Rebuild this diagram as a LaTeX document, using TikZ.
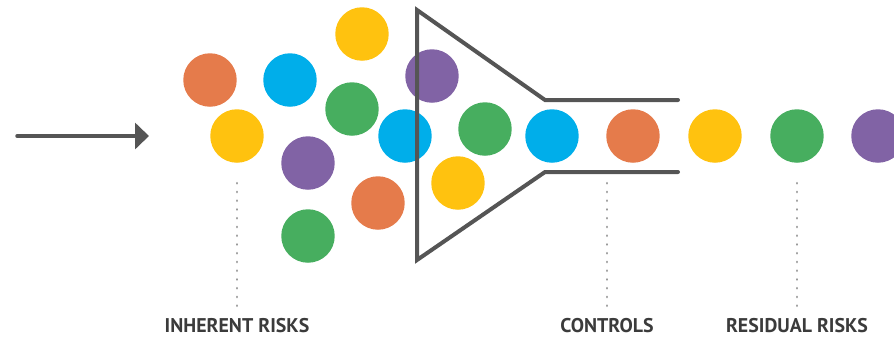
\documentclass[tikz,border=0pt]{standalone}
\usepackage{fontspec}
\newfontfamily\capsfont{PT Sans}
\usetikzlibrary{arrows.meta}
\definecolor{rOrange}{HTML}{E57B4B}
\definecolor{rYellow}{HTML}{FFC20F}
\definecolor{rBlue}{HTML}{00AEEA}
\definecolor{rGreen}{HTML}{47AE5F}
\definecolor{rPurple}{HTML}{8163A5}
\definecolor{rGrey}{HTML}{555555}
\begin{document}
\begin{tikzpicture}[x=0.02cm,y=-0.02cm,
  ball/.style={circle,inner sep=0pt,minimum size=1.07cm,fill=#1},
  funnel/.style={rGrey,line width=0.08cm,line join=miter,line cap=round},
  leader/.style={gray!80,line width=0.05cm,dash pattern=on 0.005cm off 0.17cm,line cap=round},
  caption/.style={text=rGrey!70!black,font=\capsfont\bfseries\fontsize{11.3}{12}\selectfont,inner sep=0pt}]
\clip (0,0) rectangle (894,336);
\useasboundingbox (0,0) rectangle (894,336);
% incoming arrow
\coordinate (in) at (17,136);
\coordinate (out) at (149,136);
\draw[rGrey,line width=0.07cm,line cap=round,-{Triangle[length=0.28cm,width=0.52cm]}] (in) -- (out);
% risks in front of the funnel
\node[ball=rOrange] (o1) at (210,80) {};
\node[ball=rYellow] (y1) at (362,34) {};
\node[ball=rBlue]   (b1) at (290,80) {};
\node[ball=rGreen]  (g1) at (352,109) {};
\node[ball=rPurple] (p1) at (432,76) {};
\node[ball=rYellow] (y2) at (237,136) {};
\node[ball=rBlue]   (b2) at (405,136) {};
\node[ball=rPurple] (p2) at (308,163) {};
\node[ball=rOrange] (o2) at (378,203) {};
\node[ball=rGreen]  (g2) at (308,236) {};
\node[ball=rGreen]  (g3) at (485,129) {};
\node[ball=rYellow] (y3) at (458,183) {};
\node[ball=rBlue]   (b3) at (552,136) {};
% through the pipe and out
\node[ball=rOrange] (o3) at (633,136) {};
\node[ball=rYellow] (y4) at (715,136) {};
\node[ball=rGreen]  (g4) at (797,136) {};
\node[ball=rPurple] (p3) at (878,136) {};
% funnel
\draw[funnel] (678,100) -- (545,100) -- (417,10) -- (417,260) -- (545,172) -- (678,172);
% captions
\node[caption] (inh) at (237,326) {INHERENT RISKS};
\node[caption] (ctl) at (607,326) {CONTROLS};
\node[caption] (res) at (797,326) {RESIDUAL RISKS};
\draw[leader,shorten <=0.4cm,shorten >=0.24cm] (y2.south) -- (inh.north);
\draw[leader,shorten <=0.4cm,shorten >=0.24cm] (o3.south -| ctl) -- (ctl.north);
\draw[leader,shorten <=0.4cm,shorten >=0.24cm] (g4.south) -- (res.north);
\end{tikzpicture}
\end{document}
